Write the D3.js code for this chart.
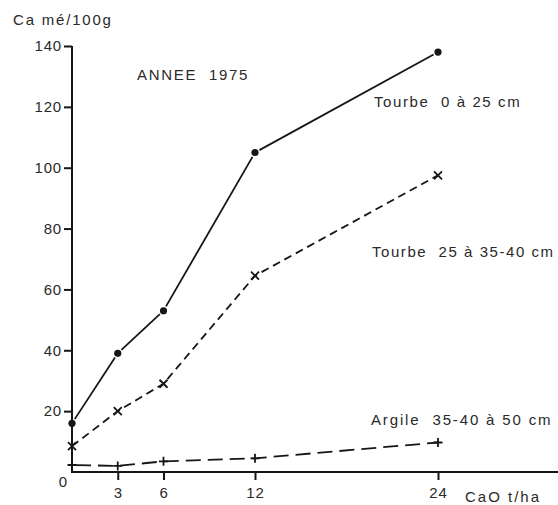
<!DOCTYPE html>
<html>
<head>
<meta charset="utf-8">
<script src="https://cdn.jsdelivr.net/npm/d3@7/dist/d3.min.js"></script>
<style>
  html, body { margin: 0; padding: 0; background: #fff; }
  svg { display: block; }
  text { font-family: "Liberation Sans", Arial, sans-serif; fill: #2a2a2a; }
</style>
</head>
<body>
<svg id="chart" width="558" height="505"></svg>
<script>
// CaO dose (t/ha)
const doses = [0, 3, 6, 12, 24];
// Exchangeable Ca (mé/100g) per layer
const tourbeSurface = [16, 39, 53, 105, 138];
const tourbeProfonde = [8.5, 20, 29, 64.5, 97.5];
const argile = [2.3, 2, 3.5, 4.5, 9.7];

const yTicks = [20, 40, 60, 80, 100, 120, 140];
const xTicks = [3, 6, 12, 24];

const seriesNames = ["Tourbe  0 à 25 cm", "Tourbe  25 à 35-40 cm", "Argile  35-40 à 50 cm"];

const svg = d3.select("#chart");
const W = 558;

const x = d3.scaleLinear().domain([0, 24]).range([72, 438]);
const y = d3.scaleLinear().domain([0, 140]).range([472, 46]);

const ink = "#161616";

// Axes lines
svg.append("line")
  .attr("x1", x(0)).attr("x2", x(0))
  .attr("y1", y(140)).attr("y2", y(0) + 1)
  .attr("stroke", ink).attr("stroke-width", 2);
svg.append("line")
  .attr("x1", x(0) - 1).attr("x2", W)
  .attr("y1", y(0)).attr("y2", y(0))
  .attr("stroke", ink).attr("stroke-width", 2);

// Y axis ticks and labels
const yAxis = d3.axisLeft(y).tickValues(yTicks).tickSize(8).tickPadding(2).tickFormat(d3.format("d"));
const gy = svg.append("g").attr("transform", `translate(${x(0)},0)`).call(yAxis);
gy.select(".domain").remove();
gy.selectAll(".tick line").attr("stroke", ink).attr("stroke-width", 2);
gy.selectAll(".tick text")
  .style("font-family", "'Liberation Sans', Arial, sans-serif")
  .style("font-size", "15px").style("letter-spacing", "0.8px")
  .attr("fill", "#2a2a2a");

// X axis ticks and labels
const xAxis = d3.axisBottom(x).tickValues(xTicks).tickSize(8).tickPadding(7).tickFormat(d3.format("d"));
const gx = svg.append("g").attr("transform", `translate(0,${y(0)})`).call(xAxis);
gx.select(".domain").remove();
gx.selectAll(".tick line").attr("stroke", ink).attr("stroke-width", 2);
gx.selectAll(".tick text")
  .style("font-family", "'Liberation Sans', Arial, sans-serif")
  .style("font-size", "15px").style("letter-spacing", "0.8px")
  .attr("fill", "#2a2a2a");

// Origin label
svg.append("text").attr("x", x(0) - 5).attr("y", y(0) + 15)
  .attr("text-anchor", "end").style("font-size", "15px").text("0");

// Axis titles
svg.append("text").attr("x", 13).attr("y", 25)
  .style("font-size", "15px").style("letter-spacing", "1.8px").text("Ca mé/100g");
svg.append("text").attr("x", 465).attr("y", 502)
  .style("font-size", "15px").style("letter-spacing", "2px").text("CaO t/ha");

// Year caption
svg.append("text").attr("x", 137).attr("y", 80)
  .style("font-size", "15px").style("letter-spacing", "1.7px")
  .style("white-space", "pre").text("ANNEE  1975");

// Series 1: solid segments with small gaps at the dots
const s1 = doses.map((d, i) => [x(d), y(tourbeSurface[i])]);
const gap = 5;
d3.pairs(s1).forEach(([a, b]) => {
  const dx = b[0] - a[0], dy = b[1] - a[1];
  const len = Math.hypot(dx, dy);
  const ux = dx / len, uy = dy / len;
  svg.append("line")
    .attr("x1", a[0] + ux * gap).attr("y1", a[1] + uy * gap)
    .attr("x2", b[0] - ux * gap).attr("y2", b[1] - uy * gap)
    .attr("stroke", ink).attr("stroke-width", 1.8);
});
svg.selectAll("circle.s1").data(s1).enter().append("circle")
  .attr("cx", d => d[0]).attr("cy", d => d[1]).attr("r", 3.6).attr("fill", ink);

const line = d3.line().x(d => d[0]).y(d => d[1]);

// Series 2: short dashes, x markers
const s2 = doses.map((d, i) => [x(d), y(tourbeProfonde[i])]);
svg.append("path").attr("d", line(s2)).attr("fill", "none")
  .attr("stroke", ink).attr("stroke-width", 1.8).attr("stroke-dasharray", "8,5");
s2.forEach(p => {
  const r = 4;
  svg.append("path")
    .attr("d", `M${p[0]-r},${p[1]-r}L${p[0]+r},${p[1]+r}M${p[0]-r},${p[1]+r}L${p[0]+r},${p[1]-r}`)
    .attr("stroke", ink).attr("stroke-width", 1.8);
});

// Series 3: long dashes, + markers
const s3 = doses.map((d, i) => [x(d), y(argile[i])]);
svg.append("path").attr("d", line(s3)).attr("fill", "none")
  .attr("stroke", ink).attr("stroke-width", 1.8).attr("stroke-dasharray", "15,7")
  .attr("stroke-dashoffset", -4);
s3.forEach(p => {
  const r = 4.5;
  svg.append("path")
    .attr("d", `M${p[0]-r},${p[1]}L${p[0]+r},${p[1]}M${p[0]},${p[1]-r}L${p[0]},${p[1]+r}`)
    .attr("stroke", ink).attr("stroke-width", 1.8);
});

// Series labels
const labelPos = [[374, 107], [372, 257], [371, 425]];
const labelSpacing = [1.6, 1.55, 1.85];
seriesNames.forEach((n, i) => {
  svg.append("text").attr("x", labelPos[i][0]).attr("y", labelPos[i][1])
    .style("font-size", "15px").style("letter-spacing", labelSpacing[i] + "px")
    .style("white-space", "pre").text(n);
});
</script>
</body>
</html>
